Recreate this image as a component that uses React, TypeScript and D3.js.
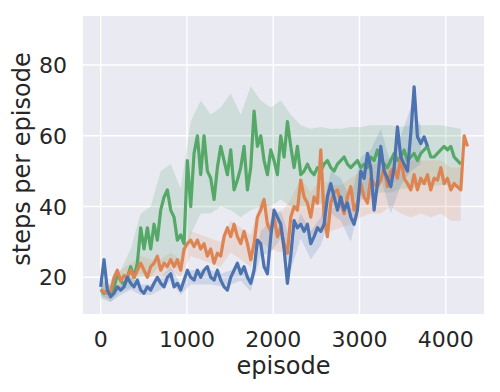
import * as d3 from 'd3';

// episode spacing of the sampled curves
const lineStep = 38.65;
const bandStep = lineStep * 3;

const blueMean = [
  17.3, 25, 16.4, 14.5, 15.5, 17.3, 16.4, 17.3, 20, 18.3, 17.3, 19.2, 16.4, 15.5, 17.3, 16.4, 18.3, 20, 18.3, 17.3,
  20, 21, 17.3, 18.3, 16.4, 19.2, 22, 20, 19.2, 22, 20, 22, 23, 20, 19.2, 22, 19.2, 17.3, 16.4, 20,
  22, 24, 21, 23, 20, 18.3, 22, 30.5, 29.5, 23, 21, 31.5, 39, 37, 35, 28, 18.3, 26, 36, 34,
  35, 33, 35, 29.5, 31.5, 34, 33, 35, 42.7, 46.5, 42.7, 39, 42.7, 39, 41, 37, 35, 39, 50, 48,
  55, 51, 39, 46.5, 57, 50, 48, 45.6, 51, 62.5, 54, 52, 50, 60.7, 73.8, 59.7, 57.8, 59.7, 57,
];
const blueLow = [
  15, 13, 15, 16.5, 15, 15, 16.5, 19, 15, 18, 18, 18, 17.5, 18, 19, 16, 26, 27, 31, 22,
  31, 25, 29, 38, 36, 30, 42, 42, 48, 38, 46, 50, 52,
];
const blueHigh = [
  20, 17, 18, 20, 18, 18, 20, 23, 18, 22, 22, 22, 21, 22, 23, 20, 33, 36, 39, 30,
  38, 33, 37, 50, 48, 42, 54, 56, 62, 52, 60, 68, 63,
];

const orangeMean = [
  16.5, 16, 15.5, 16, 20, 22, 19, 20.5, 20, 22, 20, 22, 24, 22, 20, 23, 24, 26, 22, 24,
  23, 25, 23, 25, 22, 28, 29.5, 30.5, 28.7, 30.5, 28, 29.5, 26, 28, 24, 26.8, 26, 31.5, 34, 31.5,
  35, 31.5, 29.5, 33, 29.5, 25, 29.5, 37, 39, 42, 35, 33, 37, 31.5, 34, 29.5, 26.8, 37, 40, 39,
  47.5, 42.7, 41, 37, 42.7, 41, 56, 37, 31.5, 41, 44, 44.7, 41, 38, 42.7, 45.6, 39, 41, 46.5, 42.7,
  41, 48, 46.5, 45.6, 47.5, 51, 45.6, 50, 51, 48, 54, 48, 46.5, 44.7, 49, 44.7, 48, 46.5, 49, 44.7,
  48, 47.5, 51, 46.5, 48, 44.7, 46.5, 45.6, 44.7, 60, 57,
];
const orangeLow = [
  14.5, 14, 17, 19, 21, 20, 20, 22, 20, 26, 25, 24, 23, 27, 25, 23, 30, 28, 27, 30,
  36, 32, 33, 33, 34, 35, 37, 38, 38, 40, 38, 37, 38, 37, 38, 36, 36,
];
const orangeHigh = [
  18, 18, 22, 24, 26, 25, 25, 27, 25, 33, 32, 31, 30, 36, 34, 32, 42, 40, 38, 42,
  48, 44, 48, 46, 46, 48, 50, 52, 52, 54, 55, 53, 53, 53, 53, 51, 51,
];

const greenMean = [
  16.5, 15.5, 16, 15, 17, 21, 19, 18, 20, 23, 20, 24, 34, 28, 34, 28, 35, 30.5, 39, 42.7,
  44.7, 39, 37, 30.5, 32, 29.5, 53, 40, 55, 60, 49, 60, 50, 48, 42, 51, 57, 53, 49, 56,
  44.7, 47.5, 51, 57, 44.7, 51, 67, 57, 60, 53, 49, 56, 53, 49, 60, 54, 64, 57, 51, 57,
  49, 50, 52, 50, 49, 51, 50, 52, 53, 51, 50, 52, 53, 54, 52, 51, 52, 53, 51, 52,
  51, 54, 53, 56, 53, 52, 51, 53, 55, 53, 54, 56, 53, 54, 55, 53, 55, 56, 57, 54,
  54, 55, 56, 57, 56, 57, 54, 53, 52,
];
const greenLow = [
  14, 13, 16, 17, 20, 20, 24, 24, 22, 32, 38, 38, 40, 39, 37, 39, 40, 40, 42, 40,
  40, 40, 41, 41, 42, 42, 43, 43, 44, 44, 45, 45, 46, 46, 46, 46, 45,
];
const greenHigh = [
  19, 18, 22, 28, 38, 40, 50, 52, 45, 64, 70, 66, 68, 72, 66, 74, 70, 68, 70, 66,
  63, 62, 62.5, 62, 62, 62.5, 62.5, 63, 63, 63, 62.5, 63, 63, 63, 63, 62.5, 62,
];

const xTicks = [0, 1000, 2000, 3000, 4000];
const yTicks = [20, 40, 60, 80];

const series = [
  { name: 'green', color: '#55a868', mean: greenMean, low: greenLow, high: greenHigh },
  { name: 'orange', color: '#dd8452', mean: orangeMean, low: orangeLow, high: orangeHigh },
  { name: 'blue', color: '#4c72b0', mean: blueMean, low: blueLow, high: blueHigh },
];

const W = 500;
const H = 392;
const plot = { left: 83, right: 484, top: 16, bottom: 314 };
const font = 'DejaVu Sans, sans-serif';

export default function App() {
  const x = d3.scaleLinear().domain([-205, 4443]).range([plot.left, plot.right]);
  const y = d3.scaleLinear().domain([9.63, 93.85]).range([plot.bottom, plot.top]);

  const line = d3.line<number>()
    .x((_, i) => x(i * lineStep))
    .y(d => y(d));

  const band = d3.area<[number, number]>()
    .x((_, i) => x(i * bandStep))
    .y0(d => y(d[0]))
    .y1(d => y(d[1]));

  return (
    <svg width={W} height={H} style={{ position: 'absolute', left: 0, top: 0, display: 'block' }}>
      <rect x={0} y={0} width={W} height={H} fill="#ffffff" />
      <rect x={plot.left} y={plot.top} width={plot.right - plot.left} height={plot.bottom - plot.top} fill="#eaeaf2" />
      {xTicks.map(t => (
        <line key={'gx' + t} x1={x(t)} x2={x(t)} y1={plot.top} y2={plot.bottom} stroke="#fff" strokeWidth={1.4} />
      ))}
      {yTicks.map(t => (
        <line key={'gy' + t} x1={plot.left} x2={plot.right} y1={y(t)} y2={y(t)} stroke="#fff" strokeWidth={1.4} />
      ))}
      <defs>
        <clipPath id="plotClip">
          <rect x={plot.left} y={plot.top} width={plot.right - plot.left} height={plot.bottom - plot.top} />
        </clipPath>
      </defs>
      <g clipPath="url(#plotClip)">
        {series.map(s => (
          <path key={'b' + s.name}
            d={band(s.low.map((l, i) => [l, s.high[i]] as [number, number])) || ''}
            fill={s.color} fillOpacity={0.18} stroke="none" />
        ))}
        {series.map(s => (
          <path key={'l' + s.name} d={line(s.mean) || ''} fill="none" stroke={s.color}
            strokeWidth={3.2} strokeLinejoin="round" />
        ))}
      </g>
      {xTicks.map(t => (
        <text key={'tx' + t} x={x(t)} y={347} textAnchor="middle" fontFamily={font} fontSize={22} fill="#262626">{t}</text>
      ))}
      {yTicks.map(t => (
        <text key={'ty' + t} x={67} y={y(t) + 8} textAnchor="end" fontFamily={font} fontSize={22} fill="#262626">{t}</text>
      ))}
      <text x={(plot.left + plot.right) / 2} y={374} textAnchor="middle" fontFamily={font} fontSize={24} fill="#262626">episode</text>
      <text transform={`translate(30,159) rotate(-90)`} textAnchor="middle" fontFamily={font} fontSize={24} fill="#262626">steps per episode</text>
    </svg>
  );
}
